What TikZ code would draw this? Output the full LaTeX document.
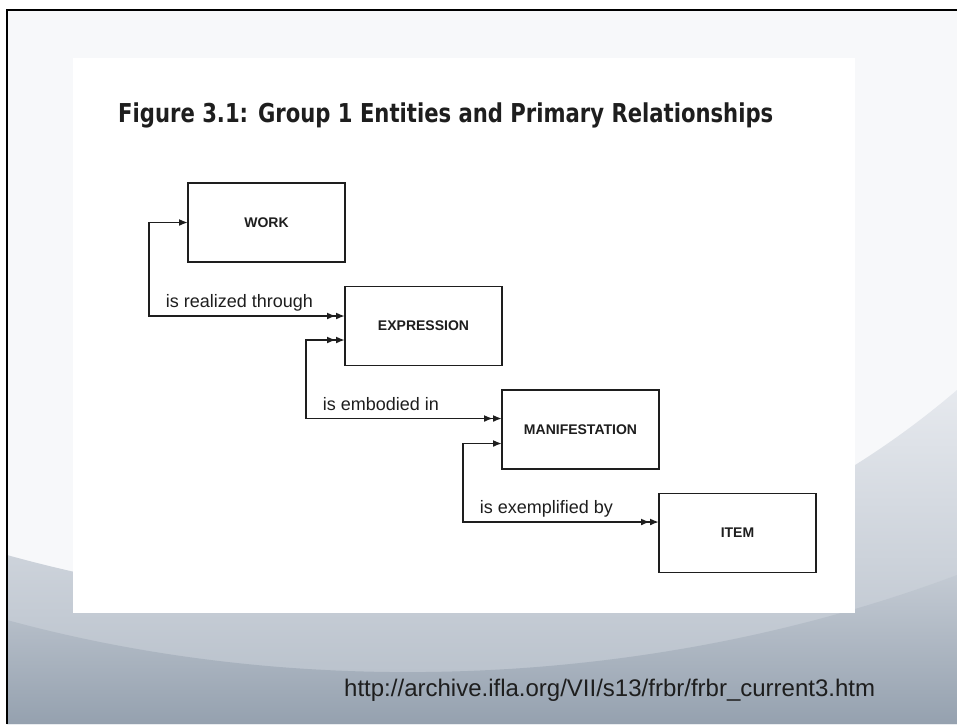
\documentclass[tikz,border=0pt]{standalone}
\usepackage{graphicx}
\usepackage{fontspec}
\setmainfont{Liberation Sans}
\newfontfamily\titlefont{DejaVu Sans}
\usepackage{tikz}
\usetikzlibrary{positioning,calc,arrows.meta}
\definecolor{slidebg}{HTML}{F7F8FA}
\definecolor{swooshtop}{HTML}{E6E9EE}
\definecolor{swooshbot}{HTML}{B3BCC7}
\definecolor{deeptop}{HTML}{C3CAD3}
\definecolor{deepbot}{HTML}{95A1AF}
\definecolor{ink}{HTML}{1E1E1E}

\begin{document}
\begin{tikzpicture}[
x=1pt,
y=-1pt,
entity/.style={
  draw=ink,
  rectangle,
  line width=1.8pt,
  outer sep=0pt,
  minimum width=157pt,
  minimum height=79pt,
  text=ink,
  font=\fontsize{14}{16}\selectfont\bfseries
  },
link/.style={
  draw=ink,
  line width=1.8pt
  },
relabel/.style={
  pos=0.5,
  anchor=base west,
  xshift=16pt,
  yshift=8.5pt,
  inner sep=0pt,
  text=ink,
  font=\fontsize{18}{20}\selectfont
  },
>={Latex[length=9pt,width=7pt]}
]
\useasboundingbox (0,0) rectangle (957,724);

% slide background
\fill[white] (0,0) rectangle (957,724);
\fill[slidebg] (7,10) rectangle (957,724);
\shade[top color=swooshtop, bottom color=swooshbot]
  (7,555) .. controls (350,650) and (700,610) .. (957,390) -- (957,724) -- (7,724) -- cycle;
\shade[top color=deeptop, bottom color=deepbot]
  (7,620) .. controls (300,700) and (650,690) .. (957,575) -- (957,724) -- (7,724) -- cycle;
\draw[line width=2.5pt, black] (7,724) -- (7,10) -- (957,10);

% scanned figure
\fill[white] (73,58) rectangle (855,613);
\node[anchor=base west, inner sep=0pt, text=ink] (title) at (118,122)
  {\resizebox{655pt}{\height}{\titlefont\bfseries\fontsize{26}{30}\selectfont Figure 3.1: Group 1 Entities and Primary Relationships}};

\node[entity] (work) at (266.5,222.5) {WORK};
\node[entity, below=24.5pt of work.south east, anchor=north west] (expression) {EXPRESSION};
\node[entity, below=24.5pt of expression.south east, anchor=north west] (manifestation) {MANIFESTATION};
\node[entity, below=24.5pt of manifestation.south east, anchor=north west] (item) {ITEM};

% relationships
\draw[link, <->>] (work.west) -- ++(-39,0)
  |- node[relabel] {is realized through} ($(expression.west)+(0,-10)$);
\draw[link, <<->>] ($(expression.west)+(0,14)$) -- ++(-39,0)
  |- node[relabel] {is embodied in} ($(manifestation.west)+(0,-11)$);
\draw[link, <->>] ($(manifestation.west)+(0,14)$) -- ++(-39,0)
  |- node[relabel] {is exemplified by} ($(item.west)+(0,-11)$);

\node[anchor=base west, inner sep=0pt, text=ink, font=\fontsize{24}{28}\selectfont] (source) at (344,696)
  {http://archive.ifla.org/VII/s13/frbr/frbr\_current3.htm};
\end{tikzpicture}
\end{document}
